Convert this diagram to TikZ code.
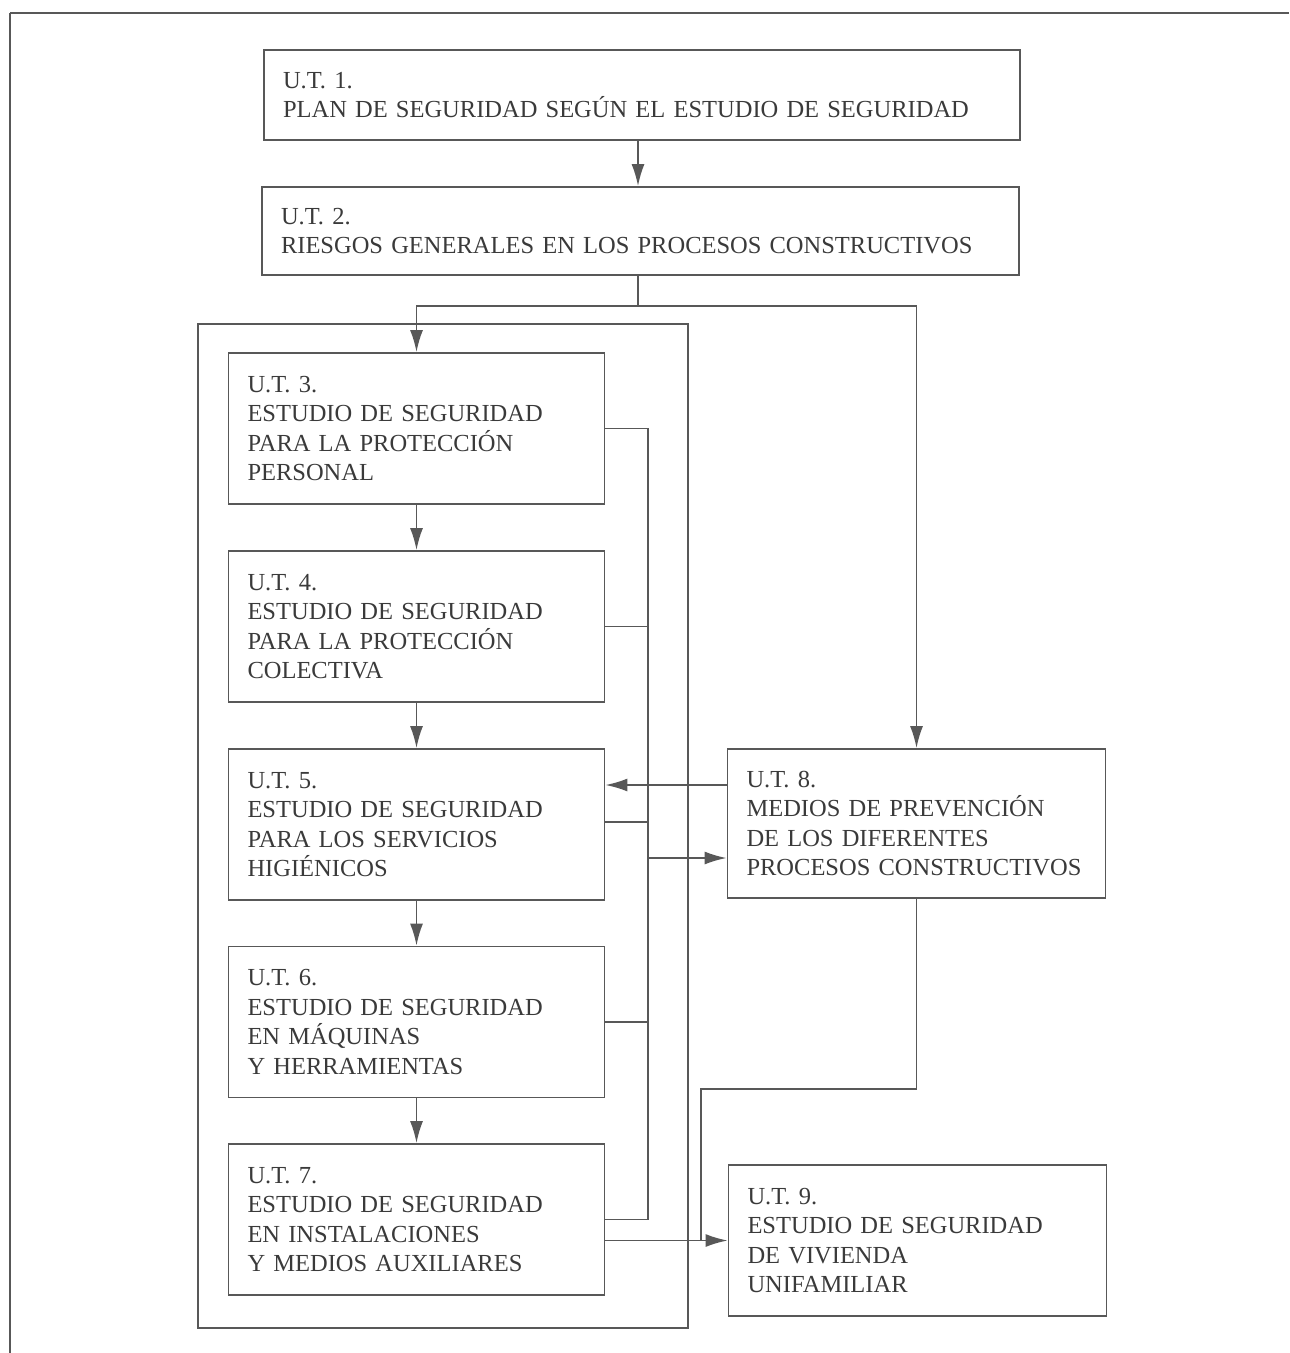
\documentclass[tikz,border=0pt]{standalone}
\usepackage{fontspec}
\setmainfont{Liberation Serif}
\usetikzlibrary{arrows.meta}

\definecolor{rule}{RGB}{88,88,88}
\definecolor{ink}{RGB}{58,58,58}

\begin{document}
\begin{tikzpicture}[x=0.5pt,y=-0.5pt,
  utbox/.style={draw=rule, line width=0.9pt, rectangle, align=left,
    inner xsep=9.5pt, inner ysep=0pt, text=ink,
    font=\fontsize{12.25}{14.75}\selectfont},
  narrow/.style={utbox, text width=169pt, minimum height=75.5pt},
  link/.style={draw=rule, line width=0.9pt},
  arr/.style={link, -{Latex[length=11pt,width=6.5pt]}}]

  \useasboundingbox (0,0) rectangle (1289,1353);

  % page frame
  \draw[link] (10,13) -- (1289,13);
  \draw[link] (10,13) -- (10,1353);

  % group enclosing units 3 to 7
  \node[draw=rule, line width=0.9pt, minimum width=245pt, minimum height=502pt,
        inner sep=0pt] (grp) at (443,826) {};

  % units
  \node[utbox, text width=359pt, minimum height=45pt] (ut1) at (642,95)
    {U.T. 1.\\PLAN DE SEGURIDAD SEGÚN EL ESTUDIO DE SEGURIDAD};
  \node[utbox, text width=359.5pt, minimum height=44pt] (ut2) at (640.5,231)
    {U.T. 2.\\RIESGOS GENERALES EN LOS PROCESOS CONSTRUCTIVOS};
  \node[narrow] (ut3) at (416.5,428.5)
    {U.T. 3.\\ESTUDIO DE SEGURIDAD\\PARA LA PROTECCIÓN\\PERSONAL};
  \node[narrow] (ut4) at (416.5,626.5)
    {U.T. 4.\\ESTUDIO DE SEGURIDAD\\PARA LA PROTECCIÓN\\COLECTIVA};
  \node[narrow] (ut5) at (416.5,824.5)
    {U.T. 5.\\ESTUDIO DE SEGURIDAD\\PARA LOS SERVICIOS\\HIGIÉNICOS};
  \node[narrow] (ut6) at (416.5,1022)
    {U.T. 6.\\ESTUDIO DE SEGURIDAD\\EN MÁQUINAS\\Y HERRAMIENTAS};
  \node[narrow] (ut7) at (416.5,1219.5)
    {U.T. 7.\\ESTUDIO DE SEGURIDAD\\EN INSTALACIONES\\Y MEDIOS AUXILIARES};
  \node[narrow, text width=170pt, minimum height=74.5pt] (ut8) at (916.5,823.5)
    {U.T. 8.\\MEDIOS DE PREVENCIÓN\\DE LOS DIFERENTES\\PROCESOS CONSTRUCTIVOS};
  \node[narrow, text width=170pt] (ut9) at (917.5,1240.5)
    {U.T. 9.\\ESTUDIO DE SEGURIDAD\\DE VIVIENDA\\UNIFAMILIAR};

  % routing points
  \coordinate (split) at (638,306);
  \coordinate (bustop) at (648,428.5);
  \coordinate (busbot) at (648,1219.5);
  \coordinate (tap8) at (648,858);
  \coordinate (ret) at (916.5,1089);
  \coordinate (drop) at (701,1089);

  % main sequence
  \draw[arr] (ut1.south -| split) -- (ut2.north -| split);
  \draw[link] (ut2.south -| split) -- (split);
  \draw[arr] (split) -| (ut3.north);
  \draw[arr] (split) -| (ut8.north);
  \draw[arr] (ut3) -- (ut4);
  \draw[arr] (ut4) -- (ut5);
  \draw[arr] (ut5) -- (ut6);
  \draw[arr] (ut6) -- (ut7);

  % collecting bus on the right of units 3 to 7
  \draw[link] (ut3.east) -- (bustop) -- (busbot) -- (ut7.east);
  \draw[link] (ut4.east) -- (ut4.east -| bustop);
  \draw[link] ([yshift=1.25pt]ut5.east) -- ([yshift=1.25pt]ut5.east -| bustop);
  \draw[link] (ut6.east) -- (ut6.east -| bustop);
  \draw[arr] (tap8) -- (tap8 -| ut8.west);

  % feedback from unit 8
  \draw[arr] ([yshift=19.25pt]ut8.west) -- ([yshift=19.25pt]ut8.west -| ut5.east);

  % towards unit 9
  \draw[link] (ut8.south) -- (ret) -- (drop) -- (drop |- ut9.west);
  \draw[arr] (ut7.east |- ut9.west) -- (ut9.west);
\end{tikzpicture}
\end{document}
